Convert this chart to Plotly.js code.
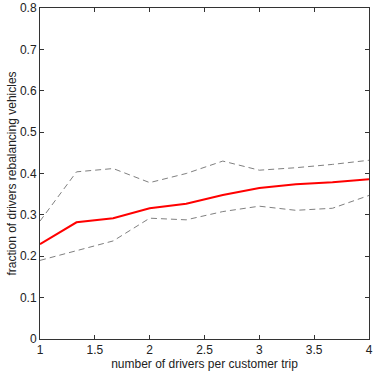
<!DOCTYPE html>
<html><head><meta charset="utf-8">
<script src="https://cdn.plot.ly/plotly-3.0.1.min.js"></script>
<style>html,body{margin:0;padding:0;background:#fff}#c{width:374px;height:374px}</style>
</head><body><div id="c"></div>
<script>
var xVals = [1, 1.333, 1.667, 2, 2.333, 2.667, 3, 3.333, 3.667, 4];
var meanVals = [0.229, 0.282, 0.292, 0.316, 0.327, 0.348, 0.365, 0.374, 0.379, 0.386];
var upperVals = [0.285, 0.404, 0.412, 0.378, 0.400, 0.430, 0.408, 0.414, 0.422, 0.432];
var lowerVals = [0.190, 0.213, 0.237, 0.292, 0.288, 0.308, 0.321, 0.311, 0.316, 0.347];
var xTicks = [1, 1.5, 2, 2.5, 3, 3.5, 4];
var yTicks = [0, 0.1, 0.2, 0.3, 0.4, 0.5, 0.6, 0.7, 0.8];

var traces = [
  {x: xVals, y: upperVals, mode: 'lines', line: {color: '#808080', width: 1, dash: '6px,4px'}, hoverinfo: 'skip'},
  {x: xVals, y: lowerVals, mode: 'lines', line: {color: '#808080', width: 1, dash: '6px,4px'}, hoverinfo: 'skip'},
  {x: xVals, y: meanVals, mode: 'lines', line: {color: '#ff0000', width: 2}}
];
var axBase = {showgrid: false, zeroline: false, showline: true, linecolor: '#333', linewidth: 1, mirror: 'ticks', ticks: 'inside', ticklen: 4, tickcolor: '#333', tickfont: {family: 'Liberation Sans, Arial', size: 12, color: '#222'}};
var layout = {
  width: 374, height: 374,
  margin: {l: 40, r: 5, t: 8, b: 35},
  showlegend: false,
  paper_bgcolor: '#fff', plot_bgcolor: '#fff',
  xaxis: Object.assign({}, axBase, {range: [1, 4], tickvals: xTicks, ticktext: xTicks.map(String),
    title: {text: 'number of drivers per customer trip', font: {family: 'Liberation Sans, Arial', size: 12, color: '#222'}, standoff: 0}}),
  yaxis: Object.assign({}, axBase, {range: [0, 0.8], tickvals: yTicks, ticktext: yTicks.map(function(v){return v===0?'0':v.toFixed(1);}),
    title: {text: 'fraction of drivers rebalancing vehicles', font: {family: 'Liberation Sans, Arial', size: 12, color: '#222'}, standoff: 0}})
};
Plotly.newPlot('c', traces, layout, {staticPlot: true});
</script></body></html>
